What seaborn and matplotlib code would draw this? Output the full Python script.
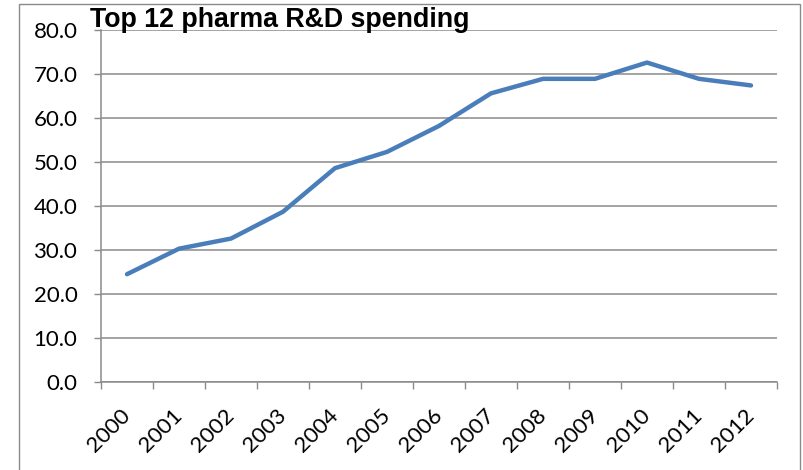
import matplotlib
matplotlib.use("Agg")
import matplotlib.pyplot as plt
from matplotlib.patches import Rectangle
from matplotlib.ticker import FixedLocator
import pandas as pd
import seaborn as sns

sns.set_style("white")
plt.rcParams["font.family"] = ["Lato", "DejaVu Sans"]
plt.rcParams["text.color"] = "black"
plt.rcParams["xtick.color"] = "black"
plt.rcParams["ytick.color"] = "black"

years = ["2000", "2001", "2002", "2003", "2004", "2005", "2006",
         "2007", "2008", "2009", "2010", "2011", "2012"]
spending = [24.5, 30.3, 32.6, 38.7, 48.6, 52.3, 58.2,
            65.6, 68.9, 68.9, 72.6, 68.9, 67.4]
y_ticks = [0, 10, 20, 30, 40, 50, 60, 70, 80]
title = "Top 12 pharma R&D spending"

df = pd.DataFrame({"year": years, "spending": spending})

grey = "#8a8a8a"
fig = plt.figure(figsize=(8.04, 4.70), dpi=100)
ax = fig.add_axes([101 / 804, 88 / 470, 676 / 804, 352 / 470])

sns.lineplot(data=df, x="year", y="spending", ax=ax, color="#4A7EBB",
             linewidth=3.2, solid_capstyle="round", solid_joinstyle="round")

ax.set_xlim(-0.5, len(years) - 0.5)
ax.set_ylim(0, 80)
ax.set_xlabel("")
ax.set_ylabel("")

# y axis
ax.set_yticks(y_ticks)
ax.set_yticklabels([f"{v:.1f}" for v in y_ticks], fontsize=16)
ax.yaxis.grid(True, color=grey, linewidth=1.1)
ax.tick_params(axis="y", which="major", length=5, width=1, color=grey,
               labelcolor="black", direction="out", pad=12, left=True)

# x axis: labels at centers, tick marks at category boundaries
ax.set_xticks(range(len(years)))
ax.set_xticklabels(years, fontsize=16, rotation=45, ha="right",
                   va="center", rotation_mode="anchor")
ax.xaxis.set_minor_locator(FixedLocator([i - 0.5 for i in range(len(years) + 1)]))
ax.tick_params(axis="x", which="major", length=0, pad=21.6, labelcolor="black")
ax.tick_params(axis="x", which="minor", length=5, width=1, color=grey,
               direction="out", bottom=True)
ax.xaxis.grid(False)

for side in ["top", "right"]:
    ax.spines[side].set_visible(False)
for side in ["left", "bottom"]:
    ax.spines[side].set_color(grey)
    ax.spines[side].set_linewidth(1.1)

fig.text(90 / 804, 1 - 27 / 470, title, fontsize=19.3, fontweight="bold",
         color="black", family=["Liberation Sans", "DejaVu Sans"],
         va="baseline", ha="left")

fig.patches.append(Rectangle((19 / 804, -0.02), 781 / 804, 1.02 - 4 / 470,
                             transform=fig.transFigure, fill=False,
                             edgecolor=grey, linewidth=1.0))

fig.savefig("out.png", dpi=100)
